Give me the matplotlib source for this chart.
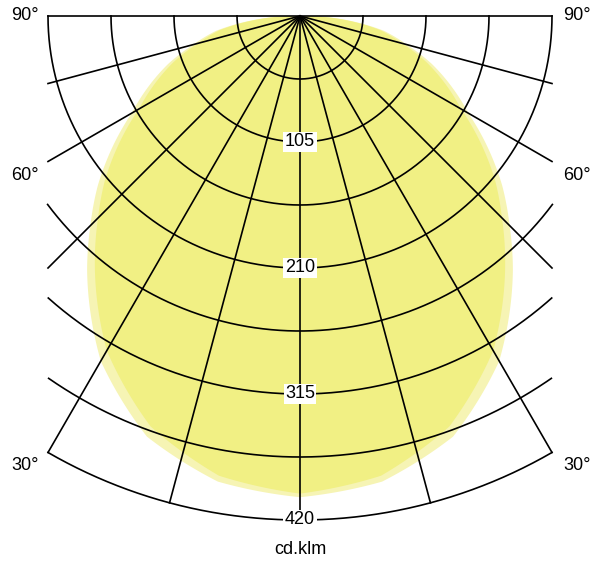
import numpy as np
import matplotlib.pyplot as plt

# luminous intensity distribution (cd/klm), gamma measured from nadir
gamma = [0, 10, 20, 30, 40, 45, 50, 60, 70, 75, 80, 83, 87, 90]
inner = [398, 389, 364, 322, 266, 238, 212, 155, 112, 88, 68, 50, 25, 0]
outer = [401, 394, 373, 332, 276, 247, 220, 162, 117, 92, 71, 52, 26, 0]
rings = [52.5, 105, 157.5, 210, 262.5, 315, 367.5, 420]
ring_labels = [105, 210, 315, 420]
spokes = [0, 15, 30, 45, 60, 75, 90]
angle_labels = ['90°', '60°', '30°']

scale = 1.2          # px per cd/klm
cx, cy = 300, 16     # origin in px
half_w = 252
rmax = 420 * scale

fig = plt.figure(figsize=(6, 5.68), dpi=100)
ax = fig.add_axes([0, 0, 1, 1])
ax.set_xlim(0, 600)
ax.set_ylim(568, 0)
ax.axis('off')


def to_xy(g_deg, r):
    g = np.radians(g_deg)
    return cx + r * np.sin(g), cy + r * np.cos(g)


# light distribution, two planes
g_fine = np.linspace(-90, 90, 361)
for vals, col in [(outer, '#f6f4b4'), (inner, '#f1f084')]:
    r = np.interp(np.abs(g_fine), gamma, vals) * scale
    x, y = to_xy(g_fine, r)
    ax.fill(x, y, color=col, lw=0, zorder=1)

# rings, clipped to the chart box
for rv in rings:
    r = rv * scale
    gs = np.linspace(-90, 90, 721)
    x, y = to_xy(gs, r)
    m = np.abs(x - cx) <= half_w + 0.5
    x = np.where(m, x, np.nan)
    ax.plot(x, y, color='black', lw=1.2, zorder=2)

# spokes
for s in spokes:
    for sg in ([s] if s == 0 else [s, -s]):
        sin_g = abs(np.sin(np.radians(sg)))
        length = rmax if sin_g < 1e-9 else min(rmax, half_w / sin_g)
        x, y = to_xy(sg, np.array([0, length]))
        ax.plot(x, y, color='black', lw=1.2, zorder=2)

# ring value labels on the vertical axis
for v in ring_labels:
    ax.text(cx, cy + v * scale, str(v), ha='center', va='center', fontsize=13,
            family='Liberation Sans', zorder=3,
            bbox=dict(facecolor='white', edgecolor='none', pad=1.0))

# angle labels on both sides
for lab, y in zip(angle_labels, [16, 175, 465]):
    ax.text(25, y, lab, ha='center', va='center', fontsize=13, family='Liberation Sans')
    ax.text(577, y, lab, ha='center', va='center', fontsize=13, family='Liberation Sans')

ax.text(300, 550, 'cd.klm', ha='center', va='center', fontsize=13, family='Liberation Sans')

fig.savefig('out.png', dpi=100)
